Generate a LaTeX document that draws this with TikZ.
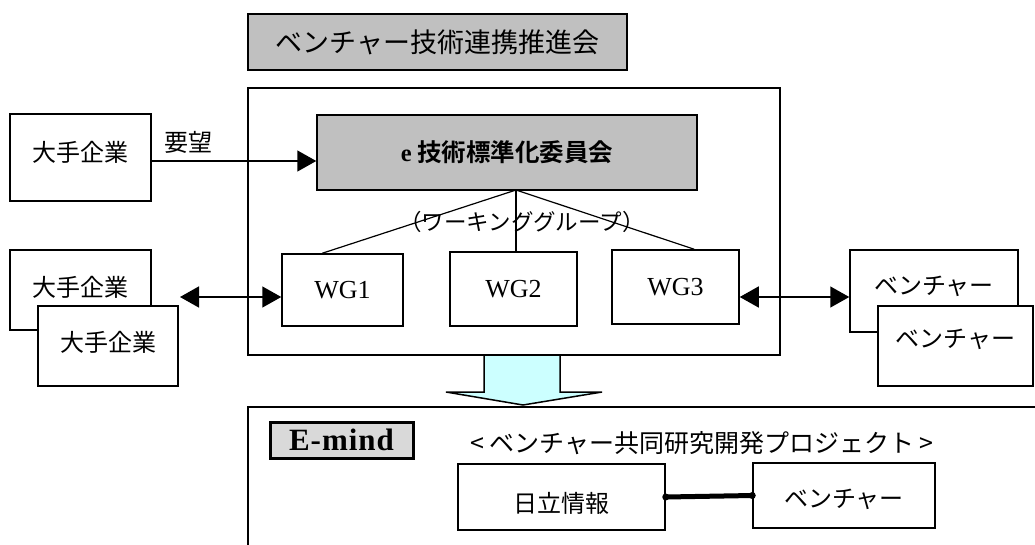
\documentclass[tikz,border=0pt]{standalone}
\usepackage{fontspec}
\setmainfont{Noto Sans CJK JP}[BoldFont={Noto Sans CJK JP Bold}]
\newfontfamily\lserif{Liberation Serif}
\usetikzlibrary{arrows.meta,calc}
\definecolor{boxgray}{RGB}{192,192,192}
\definecolor{emgray}{RGB}{217,217,217}
\definecolor{arrcyan}{RGB}{204,255,255}
\tikzset{
  box/.style={draw=black, line width=1.5pt, fill=white, inner sep=0pt, align=center,
    font=\fontsize{24}{28}\selectfont},
  graybox/.style={box, fill=boxgray},
  wgbox/.style={box, font=\lserif\fontsize{26}{30}\selectfont},
  conn/.style={draw=black, line width=1.5pt},
  tip/.style={conn, -{Triangle[length=19pt,width=21pt]}},
  dtip/.style={conn, {Triangle[length=19pt,width=21pt]}-{Triangle[length=19pt,width=21pt]}},
  lbl/.style={inner sep=0pt, font=\fontsize{24}{28}\selectfont},
}
\newcommand{\shiftjp}[2]{\raisebox{#1}[0pt][0pt]{#2}}
\begin{document}
\begin{tikzpicture}[x=1pt,y=-1pt]
\useasboundingbox (0,0) rectangle (1035,544);
\clip (0,0) rectangle (1035,544);

% title
\node[graybox, minimum width=379pt, minimum height=56pt, font=\fontsize{27}{30}\selectfont] (title) at (437.5,42) {ベンチャー技術連携推進会};

% container
\node[box, minimum width=532pt, minimum height=267pt] (cont) at (514,221.5) {};

% committee
\node[graybox, minimum width=380pt, minimum height=75pt, font=\bfseries\fontsize{24.5}{28}\selectfont] (ebox) at (507,152.5) {{\lserif\bfseries e} 技術標準化委員会};

% working groups
\node[wgbox, minimum width=121pt, minimum height=72pt] (wg1) at (342.5,290) {WG1};
\node[wgbox, minimum width=127pt, minimum height=74pt] (wg2) at (513.5,289) {WG2};
\node[wgbox, minimum width=127pt, minimum height=74pt] (wg3) at (675.5,287) {WG3};

\coordinate (apex) at (516,190);
\draw[conn, line width=1.2pt] (apex) -- ($(wg1.north west)+(41,0)$);
\draw[conn, line width=1.2pt] (apex) -- (wg2.north -| apex);
\draw[conn, line width=1.2pt] (apex) -- ($(wg3.north west)+(83,0)$);
\node[lbl, font=\fontsize{22.5}{26}\selectfont] (wglabel) at (522,222) {（ワーキンググループ）};

% large companies
\node[box, minimum width=141pt, minimum height=87pt] (dai0) at (80.5,157.5) {\shiftjp{-4pt}{大手企業}};
\node[lbl] (yobo) at (188,142) {要望};
\coordinate (ya) at (0,161);
\draw[tip] (dai0.east |- ya) -- (ebox.west |- ya);

\node[box, minimum width=141pt, minimum height=80pt] (dai1) at (80.5,290) {\shiftjp{-6pt}{大手企業}};
\node[box, minimum width=140pt, minimum height=80pt] (dai2) at (108,346) {\shiftjp{-5pt}{大手企業}};
\coordinate (la) at (180,297);
\draw[dtip] (la) -- (wg1.west |- la);

% ventures
\node[box, minimum width=168pt, minimum height=82pt] (ven1) at (934,291) {\shiftjp{-3pt}{ベンチャー}};
\node[box, minimum width=155pt, minimum height=80pt] (ven2) at (955.5,346) {\shiftjp{-1pt}{ベンチャー}};
\coordinate (ra) at (800,297);
\draw[dtip] (wg3.east |- ra) -- (ven1.west |- ra);

% block arrow
\fill[arrcyan] (484,356) -- (484,392) -- (446,392) -- (523,405) -- (602,392) -- (560,392) -- (560,356) -- cycle;
\draw[line width=1.5pt, line join=miter] (484,356) -- (484,392) -- (446,392) -- (523,405) -- (602,392) -- (560,392) -- (560,356);

% bottom container
\draw[line width=1.5pt] (248,407) rectangle (1060,580);
\node[box, fill=emgray, line width=3pt, minimum width=143pt, minimum height=36pt, font=\lserif\bfseries\fontsize{31}{34}\selectfont] (emind) at (341.5,440) {E\kern1pt-\kern1pt m\kern1pt i\kern1pt n\kern1pt d};
\node[lbl, font=\fontsize{25}{29}\selectfont] (proj) at (702,443) {<\hspace{5pt}ベンチャー共同研究開発プロジェクト\hspace{5pt}>};
\node[box, minimum width=207pt, minimum height=66pt] (hit) at (561.5,497) {\shiftjp{-15pt}{日立情報}};
\node[box, minimum width=182pt, minimum height=65pt] (ben) at (844,495.5) {\shiftjp{-11.5pt}{ベンチャー}};
\draw[line width=5pt] (hit.east) -- (ben.west);
\fill (hit.east) circle (3.5pt);
\fill (ben.west) circle (3.5pt);
\end{tikzpicture}
\end{document}
